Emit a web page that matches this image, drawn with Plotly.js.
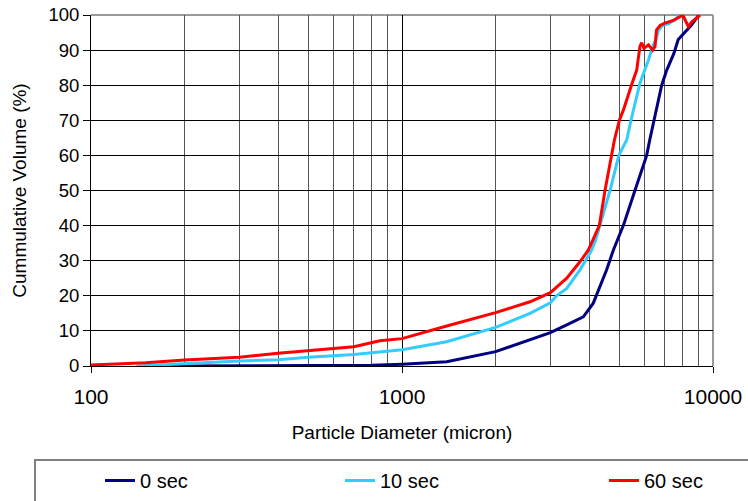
<!DOCTYPE html>
<html>
<head>
<meta charset="utf-8">
<script src="https://cdn.plot.ly/plotly-3.0.1.min.js"></script>
<style>html,body{margin:0;padding:0;background:#fff;}#chart{width:748px;height:501px;}</style>
</head>
<body>
<div id="chart"></div>
<script>
// Series names
const seriesNames = ['0 sec', '10 sec', '60 sec'];
const seriesColors = ['#000080', '#33CCFF', '#FF0000'];

// 0 sec
const x0 = [150, 500, 800, 1000, 1392, 2000, 2580, 3000, 3386, 3829, 4121, 4333, 4550, 4780, 5148, 5610, 6120, 6260, 6470, 6840, 7100, 7480, 7730, 8220, 8500, 9000];
const y0 = [0, 0, 0.2, 0.5, 1.2, 4.1, 7.4, 9.5, 11.7, 14, 17.9, 22.6, 27.4, 33, 40, 50, 60, 64.4, 70, 80, 84.3, 89, 93, 95.7, 97, 100];

// 10 sec
const x10 = [140, 200, 300, 400, 500, 700, 849, 1000, 1392, 2000, 2580, 3000, 3140, 3386, 3735, 4074, 4200, 4333, 4665, 4980, 5278, 5450, 5820, 6200, 6425, 6550, 6680, 6920, 7200, 7520, 7830];
const y10 = [0, 0.7, 1.4, 1.8, 2.5, 3.3, 4.1, 4.6, 6.9, 11, 15, 18, 20, 22.1, 27.4, 33, 36, 40, 50, 60, 64.4, 70, 80.5, 87.2, 91.5, 92.9, 95.7, 97.2, 97.5, 98.6, 100];

// 60 sec
const x60 = [100, 150, 200, 300, 400, 500, 700, 849, 1000, 1392, 2000, 2580, 2847, 3000, 3386, 3735, 3972, 4310, 4495, 4600, 4720, 4820, 5000, 5150, 5490, 5685, 5820, 5895, 6000, 6200, 6400, 6510, 6580, 6760, 6970, 7520, 8000, 8330, 8540, 8970, 9090];
const y60 = [0.3, 0.9, 1.7, 2.5, 3.6, 4.4, 5.5, 7.2, 7.8, 11.4, 15.2, 18.3, 20, 20.9, 25, 29.7, 33, 40, 50, 55, 60, 64.4, 70, 72.9, 80.5, 84.3, 91, 92.1, 90.5, 91.5, 90, 91, 95.7, 97, 97.6, 98.6, 100, 96.7, 98, 99.5, 100];

const majorTicks = [100, 1000, 10000];
const minorTicks = [200, 300, 400, 500, 600, 700, 800, 900, 2000, 3000, 4000, 5000, 6000, 7000, 8000, 9000];
const yTicks = [0, 10, 20, 30, 40, 50, 60, 70, 80, 90, 100];

const font = 'Liberation Sans, Arial, sans-serif';
const W = 748, H = 501;

const xs = [x0, x10, x60];
const ys = [y0, y10, y60];
const legendIds = ['legend', 'legend2', 'legend3'];
const legendLeft = [100, 340, 604];
const traces = xs.map((x, i) => ({
  x: x, y: ys[i], type: 'scatter', mode: 'lines', name: seriesNames[i],
  legend: legendIds[i],
  line: {color: seriesColors[i], width: 3}
}));

function legendAt(px) {
  return {
    orientation: 'h', xref: 'container', yref: 'container',
    x: px / W, xanchor: 'left', y: 1 - 461 / H, yanchor: 'top',
    font: {family: font, size: 20, color: '#000'},
    bgcolor: 'rgba(0,0,0,0)', borderwidth: 0
  };
}

const layout = {
  width: W, height: H,
  margin: {l: 91, r: 35, t: 15, b: 135},
  paper_bgcolor: '#fff', plot_bgcolor: '#fff',
  font: {family: font, color: '#000', size: 16},
  showlegend: true,
  legend: legendAt(legendLeft[0]),
  legend2: legendAt(legendLeft[1]),
  legend3: legendAt(legendLeft[2]),
  xaxis: {
    type: 'log', range: [2, 4], automargin: false,
    tickvals: majorTicks, ticktext: majorTicks.map(String),
    tickfont: {family: font, size: 21, color: '#000'},
    ticks: 'outside', ticklen: 6, tickcolor: '#000', ticklabelstandoff: 6,
    showgrid: true, gridcolor: '#000', gridwidth: 1,
    minor: {tickvals: minorTicks, showgrid: true, gridcolor: '#555', gridwidth: 1, ticks: ''},
    showline: true, linecolor: '#000', linewidth: 1,
    zeroline: false,
    title: {text: 'Particle Diameter (micron)', font: {family: font, size: 19, color: '#000'}, standoff: 18}
  },
  yaxis: {
    range: [0, 100], tickvals: yTicks, automargin: false,
    tickfont: {family: font, size: 18.5, color: '#000'},
    ticks: 'outside', ticklen: 7, tickcolor: '#000',
    showgrid: true, gridcolor: '#000', gridwidth: 1,
    showline: true, linecolor: '#000', linewidth: 1,
    zeroline: false,
    title: {text: 'Cummulative Volume (%)', font: {family: font, size: 19, color: '#000'}, standoff: 16}
  },
  shapes: [
    {type: 'line', xref: 'paper', yref: 'paper', x0: 0, x1: 1, y0: 1, y1: 1, line: {color: '#999', width: 2}, layer: 'below'},
    {type: 'line', xref: 'paper', yref: 'paper', x0: 1, x1: 1, y0: 0, y1: 1, line: {color: '#999', width: 2}, layer: 'below'},
    {type: 'rect', xref: 'paper', yref: 'paper', x0: -0.09, x1: 1.2, y0: -0.268, y1: -0.45, line: {color: '#808080', width: 2}, fillcolor: 'rgba(0,0,0,0)'}
  ]
};

Plotly.newPlot('chart', traces, layout, {displayModeBar: false, staticPlot: true});
</script>
</body>
</html>
